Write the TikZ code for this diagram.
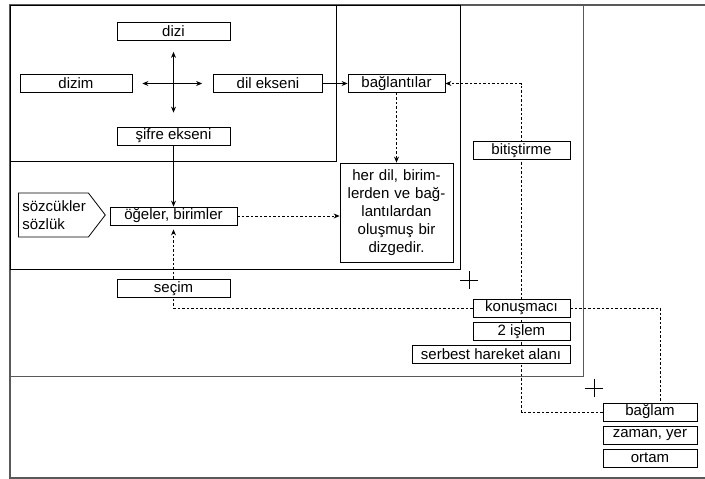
\documentclass[tikz,border=0pt]{standalone}
\usepackage{fontspec}
\setmainfont{Liberation Sans}
\usetikzlibrary{arrows.meta,shapes.symbols,backgrounds}

\tikzset{
  box/.style={draw,fill=white,line width=0.8pt,minimum height=18pt,inner sep=1pt},
  dotline/.style={dash pattern=on 2.5pt off 2pt,line width=0.8pt}
}

\begin{document}
\begin{tikzpicture}[x=1pt,y=-1pt,>={Stealth[length=6pt,width=5pt]},
    every node/.style={font=\fontsize{15}{18}\selectfont}]
    \useasboundingbox (0,0) rectangle (705,479);

    % frames
    \draw[gray!70!black,line width=1.2pt] (712,5) -- (10,5) -- (10,478) -- (712,478);
    \draw[gray!70!black,line width=1pt] (10,5) rectangle (583,376);
    \draw[line width=0.8pt] (10,5) rectangle (460,269);
    \draw[line width=0.8pt] (10,5) rectangle (336,161);

    % axes
    \node[box,minimum width=113pt] (dizi) at (173.5,31.5) {dizi};
    \node[box,minimum width=112pt] (dizim) at (76,83.5) {dizim};
    \node[box,minimum width=109pt] (dil) at (268,83.5) {dil ekseni};
    \node[box,minimum width=113pt] (sifre) at (173.5,136) {şifre ekseni};
    \node[box,minimum width=97pt] (baglanti) at (396.5,83.5) {bağlantılar};
    \node[box,minimum width=113pt,minimum height=99pt,text width=105pt,align=center]
        (herdil) at (396.5,212.5) {her dil, birim-\\lerden ve bağ-\\lantılardan\\oluşmuş bir\\dizgedir.};
    \node[box,minimum width=97pt] (bitis) at (521.5,150.5) {bitiştirme};
    \node[box,minimum width=127pt] (ogeler) at (173.5,216) {öğeler, birimler};
    \node[draw,fill=white,line width=0.8pt,signal,signal to=east,signal pointer angle=105,
        text width=62pt,align=left,inner xsep=4pt,inner ysep=3pt,minimum height=44pt,
        anchor=west] (sozluk) at (18,215) {sözcükler\\sözlük};
    \node[box,minimum width=113pt] (secim) at (173.5,288.5) {seçim};

    % speaker
    \node[box,minimum width=97pt] (konus) at (521.5,308) {konuşmacı};
    \node[box,minimum width=97pt] (islem) at (521.5,331.5) {2 işlem};
    \node[box,minimum width=158pt] (serbest) at (491,354.5) {serbest hareket alanı};

    % context
    \node[box,minimum width=94pt] (baglam) at (650,412) {bağlam};
    \node[box,minimum width=94pt] (zaman) at (650,435) {zaman, yer};
    \node[box,minimum width=94pt] (ortam) at (650,458) {ortam};

    \begin{scope}[<->,line width=0.8pt]
        \draw[shorten <=11pt,shorten >=14pt] (dizi) -- (sifre);
        \draw[shorten <=10pt,shorten >=11pt] (dizim) -- (dil);
    \end{scope}
    \begin{scope}[->,line width=0.8pt]
        \draw (dil) -- (baglanti);
        \draw (sifre) -- (ogeler);
    \end{scope}

    \begin{pgfonlayer}{background}
        \begin{scope}[dotline]
            \draw[->] (baglanti) -- (herdil);
            \draw[->] (ogeler.east) -- (ogeler.east -| herdil.west);
            \draw[->] (baglam.west) -| (bitis.center) |- (baglanti.east);
            \draw[->,shorten >=4pt] (konus.west) -| (ogeler.south);
            \draw (konus.east) -| ([xshift=10pt]baglam.north);
        \end{scope}
    \end{pgfonlayer}

    % plus signs
    \draw[line width=0.7pt] (460,280) -- (478,280) (469,271) -- (469,289);
    \draw[line width=0.7pt] (585,388) -- (603,388) (594,379) -- (594,397);
\end{tikzpicture}
\end{document}
